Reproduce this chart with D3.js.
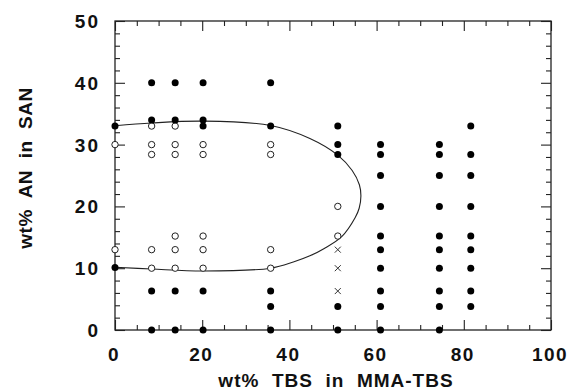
<!DOCTYPE html>
<html>
<head>
<meta charset="utf-8">
<script src="https://cdn.jsdelivr.net/npm/d3@7"></script>
<style>
  html, body { margin: 0; padding: 0; background: #fff; }
  svg text { font-family: "Liberation Sans", Arial, sans-serif; font-weight: bold; fill: #111; }
</style>
</head>
<body>
<svg id="chart" width="569" height="390"></svg>
<script>
// Blend composition: wt% TBS in MMA-TBS (x) vs wt% AN in SAN (y)
// Miscible (open), immiscible (filled) and borderline (cross) blends.
const filledPoints = [
  [0, 33], [0, 10.1],
  [8.4, 40], [8.4, 34], [8.4, 6.3], [8.4, 0],
  [13.8, 40], [13.8, 34], [13.8, 6.3], [13.8, 0],
  [20.2, 40], [20.2, 34], [20.2, 33], [20.2, 6.3], [20.2, 0],
  [35.7, 40], [35.7, 33], [35.7, 6.3], [35.7, 3.8], [35.7, 0],
  [51.1, 33], [51.1, 30], [51.1, 28.4], [51.1, 3.8], [51.1, 0],
  [60.9, 30], [60.9, 28.4], [60.9, 25], [60.9, 20], [60.9, 15.2], [60.9, 13], [60.9, 10], [60.9, 6.3], [60.9, 3.8], [60.9, 0],
  [74.4, 30], [74.4, 28.4], [74.4, 25], [74.4, 20], [74.4, 15.2], [74.4, 13], [74.4, 10], [74.4, 6.3], [74.4, 3.8], [74.4, 0],
  [81.6, 33], [81.6, 28.4], [81.6, 25], [81.6, 20], [81.6, 15.2], [81.6, 13], [81.6, 10], [81.6, 6.3], [81.6, 3.8]
];
const openPoints = [
  [0, 30], [0, 13],
  [8.4, 33], [8.4, 30], [8.4, 28.4], [8.4, 13], [8.4, 10],
  [13.8, 33], [13.8, 30], [13.8, 28.4], [13.8, 15.2], [13.8, 13], [13.8, 10],
  [20.2, 30], [20.2, 28.4], [20.2, 15.2], [20.2, 13], [20.2, 10],
  [35.7, 30], [35.7, 28.4], [35.7, 13], [35.7, 10],
  [51.1, 20], [51.1, 15.2]
];
const crossPoints = [[51.1, 13], [51.1, 10], [51.1, 6.3]];
// Miscibility boundary, traced from the upper to the lower edge of the window
const boundary = [
  [0, 33.05], [8.4, 33.5], [20.2, 33.8], [35.7, 33.1], [44.7, 31.0], [51.1, 28.3],
  [54.4, 25.8], [56.05, 23.5], [56.4, 21.7], [56.0, 19.7], [55.1, 18.2], [52, 15.1],
  [48, 13.2], [44.7, 12.0], [40.9, 11.0], [35.7, 10.0], [20.2, 9.55], [8.4, 9.87], [0, 10.15]
];
const xTickLabels = [0, 20, 40, 60, 80, 100];
const yTickLabels = [0, 10, 20, 30, 40, 50];

const W = 569, H = 390;
const m = { left: 115, top: 21, right: 18, bottom: 60 };
const svg = d3.select("#chart");
const x = d3.scaleLinear().domain([0, 100]).range([m.left, W - m.right]);
const y = d3.scaleLinear().domain([0, 50]).range([H - m.bottom, m.top]);

const ink = "#222";
const xMinor = d3.range(0, 101, 5).filter(v => !xTickLabels.includes(v));
const yMinor = d3.range(0, 51, 2).filter(v => !yTickLabels.includes(v));
const majorLen = 10, minorLen = 5;

function tickAxis(axisFn, scale, tx, ty, values, len) {
  const g = svg.append("g").attr("transform", `translate(${tx},${ty})`)
    .call(axisFn(scale).tickValues(values).tickSizeInner(-len).tickSizeOuter(0).tickFormat(""));
  g.select(".domain").remove();
  g.selectAll(".tick line").attr("stroke", ink).attr("stroke-width", 1.1);
  return g;
}
const x0 = m.left, x1 = W - m.right, y0 = H - m.bottom, y1 = m.top;
// inward ticks on all four sides
[[xTickLabels, majorLen], [xMinor, minorLen]].forEach(([v, l]) => {
  tickAxis(d3.axisBottom, x, 0, y0, v, l);
  tickAxis(d3.axisTop, x, 0, y1, v, l);
});
[[yTickLabels, majorLen], [yMinor, minorLen]].forEach(([v, l]) => {
  tickAxis(d3.axisLeft, y, x0, 0, v, l);
  tickAxis(d3.axisRight, y, x1, 0, v, l);
});
// frame
svg.append("rect").attr("x", x0).attr("y", y1).attr("width", x1 - x0).attr("height", y0 - y1)
  .attr("fill", "none").attr("stroke", ink).attr("stroke-width", 1.3);

// tick labels
svg.append("g").selectAll("text").data(xTickLabels).join("text")
  .attr("x", d => x(d) - 1).attr("y", y0 + 31)
  .attr("text-anchor", "middle").attr("font-size", 19).attr("letter-spacing", 1.5)
  .text(d => d);
svg.append("g").selectAll("text").data(yTickLabels).join("text")
  .attr("x", x0 - 15).attr("y", d => y(d) + 7)
  .attr("text-anchor", "end").attr("font-size", 19).attr("letter-spacing", 2)
  .text(d => d);

// axis titles
svg.append("text").attr("x", 336).attr("y", 387).attr("text-anchor", "middle")
  .attr("font-size", 19).style("white-space", "pre").attr("letter-spacing", 1)
  .text("wt%  TBS  in  MMA-TBS");
svg.append("text").attr("transform", "translate(32,168) rotate(-90)").attr("text-anchor", "middle")
  .attr("font-size", 19).style("white-space", "pre").attr("letter-spacing", 0.5)
  .text("wt%  AN  in  SAN");

// boundary curve
svg.append("path").datum(boundary)
  .attr("d", d3.line().x(d => x(d[0])).y(d => y(d[1])).curve(d3.curveCatmullRom.alpha(0.5)))
  .attr("fill", "none").attr("stroke", ink).attr("stroke-width", 1.1);

// markers
svg.append("g").selectAll("circle").data(openPoints).join("circle")
  .attr("cx", d => x(d[0])).attr("cy", d => y(d[1])).attr("r", 3.2)
  .attr("fill", "#fff").attr("stroke", ink).attr("stroke-width", 1);
svg.append("g").selectAll("circle").data(filledPoints).join("circle")
  .attr("cx", d => x(d[0])).attr("cy", d => y(d[1])).attr("r", 3.5)
  .attr("fill", "#000");
const cs = 3;
svg.append("g").selectAll("path").data(crossPoints).join("path")
  .attr("d", d => {
    const cx = x(d[0]), cy = y(d[1]);
    return `M${cx - cs},${cy - cs}L${cx + cs},${cy + cs}M${cx - cs},${cy + cs}L${cx + cs},${cy - cs}`;
  })
  .attr("stroke", "#333").attr("stroke-width", 1);
</script>
</body>
</html>
